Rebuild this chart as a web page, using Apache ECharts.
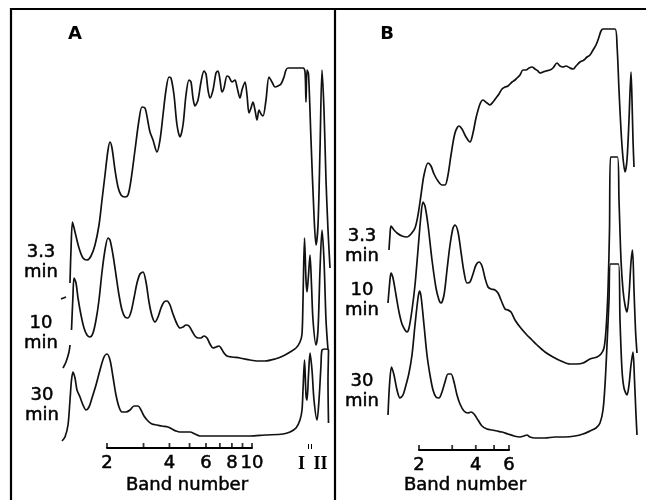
<!DOCTYPE html>
<html><head><meta charset="utf-8">
<script src="https://cdn.jsdelivr.net/npm/echarts@6/dist/echarts.min.js"></script>
<style>html,body{margin:0;padding:0;background:#fff}#c{width:646px;height:500px}</style>
</head><body><div id="c"></div>
<script>
// ---- labels / ticks ----
const panelLabels = ['A', 'B'];
const timeLabels = ['3.3', '10', '30'];
const bandTicksA = [2, 3, 4, 5, 6, 7, 8, 9, 10];
const bandLabelsA = [2, 4, 6, 8, 10];
const bandTicksB = [2, 3, 4, 5, 6];
const bandLabelsB = [2, 4, 6];
const peakLabels = ['I', 'II'];
const axisTitle = 'Band number';

// ---- traces: [distance along gel, absorbance (arbitrary, offset per trace)] ----
// Panel A
const A_33_dash = [[50,201],[55,203]];
const A_33 = [[59,217],[60,250],[61.5,278],[64,268],[68,252],[72,242],[76,240],[80,244],[84,255],[88,275],[91,300],[94,325],[97,350],[99,358],[101,352],[104,330],[107,313],[110,305],[114,303],[117,305],[120,320],[124,350],[128,380],[131,393],[134,392],[137,378],[139,368],[142,360],[146,348],[149,360],[152,385],[155,410],[158,423],[160,422],[163,405],[166,375],[169,363],[172,375],[175,405],[178,420],[180,418],[182,402],[184,394],[187,400],[190,418],[193,429],[195,426],[197,410],[199,402],[202,410],[205,427],[207,429],[209,420],[211,408],[213,412],[216,424],[218,423],[221,418],[224,420],[226,413],[229,402],[231,410],[234,418],[236,405],[238,387],[240,392],[242,398],[244,390],[246,380],[248,390],[250,386],[252,384],[255,400],[258,423],[261,418],[264,413],[267,414],[270,416],[273,423],[275,430],[277,432],[292,432],[294,428],[295,398],[296,430],[297.5,426],[300,360],[303,285],[305,255],[307,275],[309,350],[311,430],[313,390],[315,320],[317,270],[319,232]];
const A_10_tail = [[52,132],[55,138],[58,148],[59,155]];
const A_10 = [[60.5,170],[62,205],[63,222],[65,217],[67,202],[70,185],[73,172],[76,165],[79,163],[82,167],[85,180],[88,200],[91,228],[94,250],[97,262],[99,260],[102,245],[105,225],[108,205],[111,190],[114,183],[117,182],[120,188],[123,202],[126,217],[129,226],[132,228],[135,218],[138,198],[141,184],[144,178],[147,183],[150,192],[153,198],[156,199],[159,195],[162,186],[166,176],[169,172],[172,173],[175,175],[178,174],[181,169],[184,164],[187,162],[190,162],[193,164],[196,162],[199,156],[202,152],[205,153],[208,154],[210,152],[213,147],[216,144],[221,143],[229,142],[239,140],[246,139],[254,139],[264,141],[272,144],[279,148],[285,152],[289,158],[291,166],[292,200],[293.5,262],[295,220],[296,208],[297.5,225],[299,245],[300.5,215],[302,180],[305,155],[307,170],[309,230],[311,270],[313,240],[315,180],[317,150]];
const A_30 = [[51,59],[54,63],[57,75],[59,100],[60.5,120],[62,128],[64,122],[66,110],[69,103],[72,95],[75,90],[78,93],[81,102],[85,115],[89,130],[93,143],[96,146],[99,140],[102,123],[105,105],[108,93],[111,88],[115,88],[119,90],[123,94],[127,94],[130,90],[133,84],[137,79],[141,76],[146,75],[151,74],[157,73],[161,71],[165,69],[169,68],[174,68],[179,68],[184,66],[189,64],[199,64],[209,64],[222,64],[239,64],[254,65],[272,66],[279,68],[285,72],[289,80],[291,90],[292,110],[293.5,140],[295,105],[296,100],[297.5,125],[299,147],[301,130],[303,100],[306,80],[308,100],[310,135],[311,150],[314,151],[317.5,150],[317,120],[317.5,77]];
// Panel B
const B_33 = [[54,250],[55,265],[56,274],[59,270],[62,267],[67,264],[72,263],[76,266],[80,272],[83,285],[86,305],[89,325],[93,337],[96,334],[99,326],[103,319],[107,315],[110,315],[113,325],[116,345],[120,367],[124,374],[127,371],[131,363],[135,358],[138,367],[141,382],[145,396],[148,400],[152,397],[155,395],[158,398],[161,402],[164,406],[167,411],[170,413],[173,414],[177,418],[180,420],[182,422],[185,425],[188,430],[191,430],[194,432],[197,433],[200,431],[203,429],[205,427],[208,428],[211,429],[215,430],[218,432],[222,437],[225,434],[228,433],[231,434],[235,432],[238,431],[241,434],[245,438],[249,440],[252,443],[255,445],[258,450],[261,455],[264,463],[266,469],[268,471],[280,471],[282,455],[284,410],[286,370],[288,342],[290,328],[292,340],[294,380],[296,428],[297,400],[298,360],[299,333]];
const B_10 = [[53,197],[54.5,215],[56,227],[58,222],[61,205],[64,188],[67,176],[70,170],[72,168],[74,172],[77,190],[80,215],[83,250],[86,285],[88,298],[90,294],[93,275],[97,240],[101,212],[104,200],[106,197],[109,205],[112,230],[115,255],[118,272],[120,275],[123,268],[126,248],[129,228],[132,217],[135,218],[138,226],[141,235],[144,238],[147,234],[150,222],[153,213],[156,211],[160,210],[163,207],[166,200],[170,191],[173,190],[176,188],[180,180],[185,173],[191,166],[197,160],[202,155],[210,148],[218,143],[226,139],[235,136],[242,136],[248,137],[255,141],[262,143],[266,146],[269,152],[271,170],[273,210],[274.5,270],[275.5,343],[282.5,343],[284,300],[286,240],[288,210],[290,195],[292,188],[294,205],[296,238],[297.5,250],[299,210],[300.5,170],[302,147]];
const B_30 = [[53,85],[54.5,115],[56.5,133],[59,125],[62,110],[65,102],[68,105],[71,115],[74,127],[77,145],[80,175],[83,202],[84.5,209],[86,204],[89,175],[92,145],[95,125],[98,110],[101,103],[104,102],[107,108],[110,118],[113,126],[116,126],[119,118],[122,105],[125,96],[129,89],[133,87],[136,88],[139,86],[143,80],[147,74],[152,71],[157,70],[162,69],[167,68],[173,66],[179,64],[185,63],[189,64],[192,65],[195,63],[200,62],[210,62],[220,63],[230,63],[240,64],[248,66],[255,69],[261,72],[265,77],[268,90],[270,115],[272,155],[274,200],[275.5,236],[283.5,236],[285,180],[287,130],[289,112],[292,105],[294,115],[296,135],[298,148],[299.5,120],[301,85],[302,65]];

const INK = '#000';

function trace(data, grid, smooth) {
  return {
    type: 'line', xAxisIndex: grid, yAxisIndex: grid, data: data,
    showSymbol: false, symbol: 'none', smooth: smooth, silent: true,
    lineStyle: { color: '#111', width: 1.7 }, animation: false
  };
}
function tickSeries(vals, grid) {
  return {
    type: 'scatter', xAxisIndex: grid, yAxisIndex: grid,
    data: vals.map(v => [v, 0]), symbol: 'rect', symbolSize: [1.8, 5],
    symbolOffset: [0, -2.5], itemStyle: { color: INK }, silent: true, animation: false
  };
}
function labelSeries(vals, grid) {
  return {
    type: 'scatter', xAxisIndex: grid, yAxisIndex: grid,
    data: vals.map(v => [v, 0]), symbol: 'circle', symbolSize: 1,
    itemStyle: { color: 'rgba(0,0,0,0)' },
    label: { show: true, position: 'bottom', distance: 6, formatter: p => String(p.value[0]),
      color: INK, opacity: 1, fontSize: 18, fontFamily: '"DejaVu Sans", sans-serif',
      textBorderColor: INK, textBorderWidth: 0.5 },
    silent: true, animation: false
  };
}
function logAxis(grid, max) {
  return { gridIndex: grid, type: 'log', logBase: 10, min: 2, max: max,
    axisLine: { show: true, onZero: false, lineStyle: { color: INK, width: 2 } },
    axisTick: { show: false }, axisLabel: { show: false }, splitLine: { show: false } };
}
function hidden(grid, min, max) {
  return { gridIndex: grid, type: 'value', min: min, max: max, show: false, splitLine: { show: false } };
}
function txt(text, x, y, font, sw) {
  return { type: 'text', silent: true, style: { text: text, x: x, y: y, fill: INK,
    stroke: INK, lineWidth: sw === undefined ? 0.5 : sw,
    font: font, textAlign: 'center', textVerticalAlign: 'middle', lineHeight: 20 } };
}
function rule(x1, y1, x2, y2, w) {
  return { type: 'line', silent: true, shape: { x1: x1, y1: y1, x2: x2, y2: y2 },
    style: { stroke: INK, lineWidth: w } };
}

const LBL = '18px "DejaVu Sans", sans-serif';
const BOLD = 'bold 18px "DejaVu Sans", sans-serif';
const SERIF = 'bold 18px "Liberation Serif", serif';

const chart = echarts.init(document.getElementById('c'), null, { renderer: 'canvas' });
chart.setOption({
  backgroundColor: '#fff',
  animation: false,
  grid: [
    { left: 11, top: 9, width: 324, height: 491, outerBoundsMode: 'none' },
    { left: 335, top: 9, width: 311, height: 491, outerBoundsMode: 'none' },
    { left: 107, top: 440, width: 145, height: 8, outerBoundsMode: 'none' },
    { left: 419, top: 442, width: 90, height: 8, outerBoundsMode: 'none' }
  ],
  xAxis: [hidden(0, 0, 324), hidden(1, 0, 311), logAxis(2, 10), logAxis(3, 6)],
  yAxis: [hidden(0, 0, 491), hidden(1, 0, 491), hidden(2, 0, 1), hidden(3, 0, 1)],
  series: [
    trace(A_33_dash, 0, false), trace(A_33, 0, 0.3),
    trace(A_10_tail, 0, 0.3), trace(A_10, 0, 0.3),
    trace(A_30, 0, 0.3),
    trace(B_33, 1, 0.3), trace(B_10, 1, 0.3), trace(B_30, 1, 0.3),
    tickSeries(bandTicksA, 2), labelSeries(bandLabelsA, 2),
    tickSeries(bandTicksB, 3), labelSeries(bandLabelsB, 3)
  ],
  graphic: [
    rule(11, 9, 646, 9, 2),
    rule(11, 8, 11, 500, 2.2),
    rule(335, 8, 335, 500, 2.2),
    txt(panelLabels[0], 75, 34, BOLD, 0),
    txt(panelLabels[1], 387, 34, BOLD, 0),
    txt(timeLabels[0] + '\nmin', 41, 262, LBL),
    txt(timeLabels[1] + '\nmin', 41, 333, LBL),
    txt(timeLabels[2] + '\nmin', 42, 405, LBL),
    txt(timeLabels[0] + '\nmin', 362, 246, LBL),
    txt(timeLabels[1] + '\nmin', 362, 300, LBL),
    txt(timeLabels[2] + '\nmin', 362, 391, LBL),
    txt(axisTitle, 187, 485, LBL),
    txt(axisTitle, 465, 485, LBL),
    txt(peakLabels[0], 301.5, 464, SERIF, 0),
    txt(peakLabels[1], 320.5, 464, SERIF, 0),
    rule(308.5, 444, 308.5, 449, 1),
    rule(311.5, 444, 311.5, 449, 1)
  ]
});
</script></body></html>
